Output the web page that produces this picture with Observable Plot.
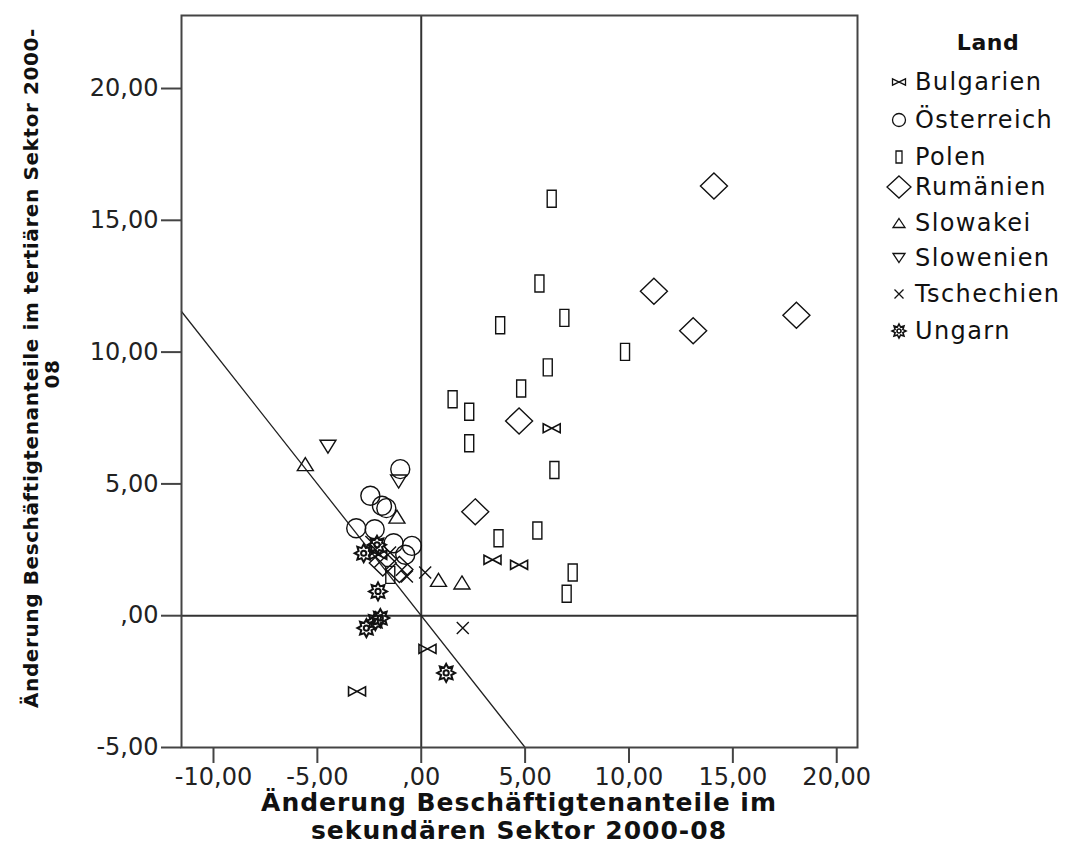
<!DOCTYPE html>
<html>
<head>
<meta charset="utf-8">
<script src="https://cdn.jsdelivr.net/npm/d3@7"></script>
<script src="https://cdn.jsdelivr.net/npm/@observablehq/plot@0.6"></script>
<style>
  html, body { margin: 0; padding: 0; background: #fff; }
  #chart svg { display: block; overflow: visible; }
</style>
</head>
<body>
<div id="chart"></div>
<script>
// ---------------- data ----------------
const countries = ["Bulgarien", "Österreich", "Polen", "Rumänien", "Slowakei", "Slowenien", "Tschechien", "Ungarn"];

const bulgarienX = [6.28, 3.43, 4.71, 0.30, -3.09, -2.07];
const bulgarienY = [7.11, 2.12, 1.93, -1.26, -2.87, 2.31];

const oesterreichX = [-1.01, -2.45, -1.89, -1.68, -3.13, -2.24, -0.45, -1.33, -0.77];
const oesterreichY = [5.56, 4.55, 4.17, 4.08, 3.32, 3.28, 2.65, 2.75, 2.31];

const polenX = [6.28, 5.69, 6.89, 3.80, 9.81, 6.09, 4.81, 1.51, 2.31, 2.31, 6.41, 3.72, 5.59, 7.29, 7.00, -1.49];
const polenY = [15.82, 12.60, 11.30, 11.02, 10.01, 9.42, 8.62, 8.21, 7.74, 6.54, 5.53, 2.94, 3.23, 1.64, 0.83, 1.55];

const rumaenienX = [14.09, 11.20, 13.09, 18.06, 4.71, 2.60, -1.85, -1.05];
const rumaenienY = [16.30, 12.31, 10.81, 11.40, 7.39, 3.94, 2.00, 1.75];

const slowakeiX = [-5.58, -1.17, 0.83, 1.96];
const slowakeiY = [5.75, 3.76, 1.36, 1.26];

const slowenienX = [-4.49, -1.09];
const slowenienY = [6.41, 5.09];

const tschechienX = [2.00, 0.19, -0.69, -2.40, -1.97, -0.93, -1.50, -2.20];
const tschechienY = [-0.47, 1.64, 1.49, 2.80, 2.06, 1.74, 2.40, 2.50];

const ungarnX = [-2.08, -1.97, -2.21, -2.64, 1.20, -2.77, -2.13];
const ungarnY = [0.92, -0.09, -0.21, -0.47, -2.17, 2.37, 2.69];

const xTicks = [-10, -5, 0, 5, 10, 15, 20];
const yTicks = [-5, 0, 5, 10, 15, 20];
const xDomain = [-11.54, 21.0];
const yDomain = [-5, 22.77];
const diagonalX = [xDomain[0], 5];   // reference line y = -x

const xTitle = ["Änderung Beschäftigtenanteile im", "sekundären Sektor 2000-08"];
const yTitle = ["Änderung Beschäftigtenanteile im tertiären Sektor 2000-", "08"];
const legendTitle = "Land";

// ---------------- symbols ----------------
const sym = {
  bowtie: (w, h) => ({draw(c) { c.moveTo(-w, -h); c.lineTo(w, h); c.lineTo(w, -h); c.lineTo(-w, h); c.closePath(); }}),
  circle: (r) => ({draw(c) { c.moveTo(r, 0); c.arc(0, 0, r, 0, 2 * Math.PI); }}),
  rect: (w, h) => ({draw(c) { c.rect(-w / 2, -h / 2, w, h); }}),
  diamond: (w, h) => ({draw(c) { c.moveTo(0, -h); c.lineTo(w, 0); c.lineTo(0, h); c.lineTo(-w, 0); c.closePath(); }}),
  triUp: (w, h) => ({draw(c) { c.moveTo(0, -h / 2); c.lineTo(w / 2, h / 2); c.lineTo(-w / 2, h / 2); c.closePath(); }}),
  triDown: (w, h) => ({draw(c) { c.moveTo(0, h / 2); c.lineTo(w / 2, -h / 2); c.lineTo(-w / 2, -h / 2); c.closePath(); }}),
  times: (s) => ({draw(c) { c.moveTo(-s, -s); c.lineTo(s, s); c.moveTo(s, -s); c.lineTo(-s, s); }}),
  sun: (R, r, ci) => ({draw(c) {
    for (let i = 0; i < 16; i++) {
      const a = i * Math.PI / 8 - Math.PI / 2;
      const rr = i % 2 === 0 ? R : r;
      const x = rr * Math.cos(a), y = rr * Math.sin(a);
      if (i === 0) c.moveTo(x, y); else c.lineTo(x, y);
    }
    c.closePath();
    c.moveTo(ci, 0); c.arc(0, 0, ci, 0, 2 * Math.PI);
  }})
};

const series = [
  {name: countries[0], xs: bulgarienX, ys: bulgarienY, s: sym.bowtie(8.5, 4.5), l: sym.bowtie(6.5, 3.2), sw: 1.6},
  {name: countries[1], xs: oesterreichX, ys: oesterreichY, s: sym.circle(9.5), l: sym.circle(6.5), sw: 1.4},
  {name: countries[2], xs: polenX, ys: polenY, s: sym.rect(9, 17), l: sym.rect(6, 12), sw: 1.4},
  {name: countries[3], xs: rumaenienX, ys: rumaenienY, s: sym.diamond(13.5, 13), l: sym.diamond(12, 11), sw: 1.4},
  {name: countries[4], xs: slowakeiX, ys: slowakeiY, s: sym.triUp(16, 13), l: sym.triUp(12, 9), sw: 1.4},
  {name: countries[5], xs: slowenienX, ys: slowenienY, s: sym.triDown(16, 13), l: sym.triDown(12, 9), sw: 1.4},
  {name: countries[6], xs: tschechienX, ys: tschechienY, s: sym.times(6), l: sym.times(4.5), sw: 1.4},
  {name: countries[7], xs: ungarnX, ys: ungarnY, s: sym.sun(9, 5.5, 2.6), l: sym.sun(7, 4.2, 2), sw: 2}
];

const fmt = d => d === 0 ? ",00" : d.toFixed(2).replace(".", ",");

const W = 1088, H = 866;
const mL = 181, mR = 231, mT = 15, mB = 119;

const dotMarks = series.map(s => Plot.dot(s.xs.map((x, i) => ({x, y: s.ys[i]})), {
  x: "x", y: "y", r: 5, symbol: s.s, fill: "none", stroke: "#111", strokeWidth: s.sw
}));

const plot = Plot.plot({
  width: W, height: H,
  marginLeft: mL, marginRight: mR, marginTop: mT, marginBottom: mB,
  x: {domain: xDomain},
  y: {domain: yDomain},
  style: {fontFamily: "DejaVu Sans", fontSize: "24px", color: "#222", background: "#fff"},
  marks: [
    Plot.ruleX([0], {stroke: "#333", strokeWidth: 2}),
    Plot.ruleY([0], {stroke: "#333", strokeWidth: 2}),
    Plot.line(diagonalX, {x: d => d, y: d => -d, stroke: "#222", strokeWidth: 1.3}),
    ...dotMarks,
    Plot.frame({stroke: "#444", strokeWidth: 2}),
    Plot.axisX({ticks: xTicks, tickFormat: fmt, tickSize: 16, tickPadding: 4, stroke: "#444", strokeWidth: 2, label: null, fontSize: 24}),
    Plot.axisY({ticks: yTicks, tickFormat: fmt, tickSize: 20, tickPadding: 3, stroke: "#444", strokeWidth: 2, label: null, fontSize: 24})
  ]
});

document.getElementById("chart").appendChild(plot);

// ---------------- titles & legend (real text) ----------------
const svg = d3.select(plot);
const cx = (mL + (W - mR)) / 2;
const tx = svg.append("g").attr("font-family", "DejaVu Sans").attr("font-weight", "bold")
  .attr("fill", "#111").attr("text-anchor", "middle");
tx.append("text").attr("x", cx).attr("y", 811).attr("font-size", 25).attr("letter-spacing", "1px").text(xTitle[0]);
tx.append("text").attr("x", cx).attr("y", 839).attr("font-size", 25).attr("letter-spacing", "1px").text(xTitle[1]);
const cy = 368;
tx.append("text").attr("transform", `translate(38,${cy}) rotate(-90)`).attr("font-size", 20)
  .attr("letter-spacing", "0.6px").text(yTitle[0]);
tx.append("text").attr("transform", `translate(59,${cy + 6}) rotate(-90)`).attr("font-size", 20)
  .attr("letter-spacing", "0.6px").text(yTitle[1]);

const lg = svg.append("g").attr("font-family", "DejaVu Sans").attr("fill", "#111");
lg.append("text").attr("x", 988).attr("y", 42).attr("text-anchor", "middle")
  .attr("dominant-baseline", "central").attr("font-weight", "bold").attr("font-size", 22)
  .attr("letter-spacing", "0.5px").text(legendTitle);
const rowY = [82, 120, 157, 187, 223, 258, 294, 331];
series.forEach((s, i) => {
  const p = d3.path(); s.l.draw(p);
  lg.append("path").attr("d", p.toString()).attr("transform", `translate(899,${rowY[i]})`)
    .attr("fill", "none").attr("stroke", "#111").attr("stroke-width", i === 7 ? 1.6 : 1.3);
  lg.append("text").attr("x", 915).attr("y", rowY[i]).attr("text-anchor", "start")
    .attr("dominant-baseline", "central")
    .attr("font-size", 24).attr("letter-spacing", "1.4px").text(s.name);
});
</script>
</body>
</html>
